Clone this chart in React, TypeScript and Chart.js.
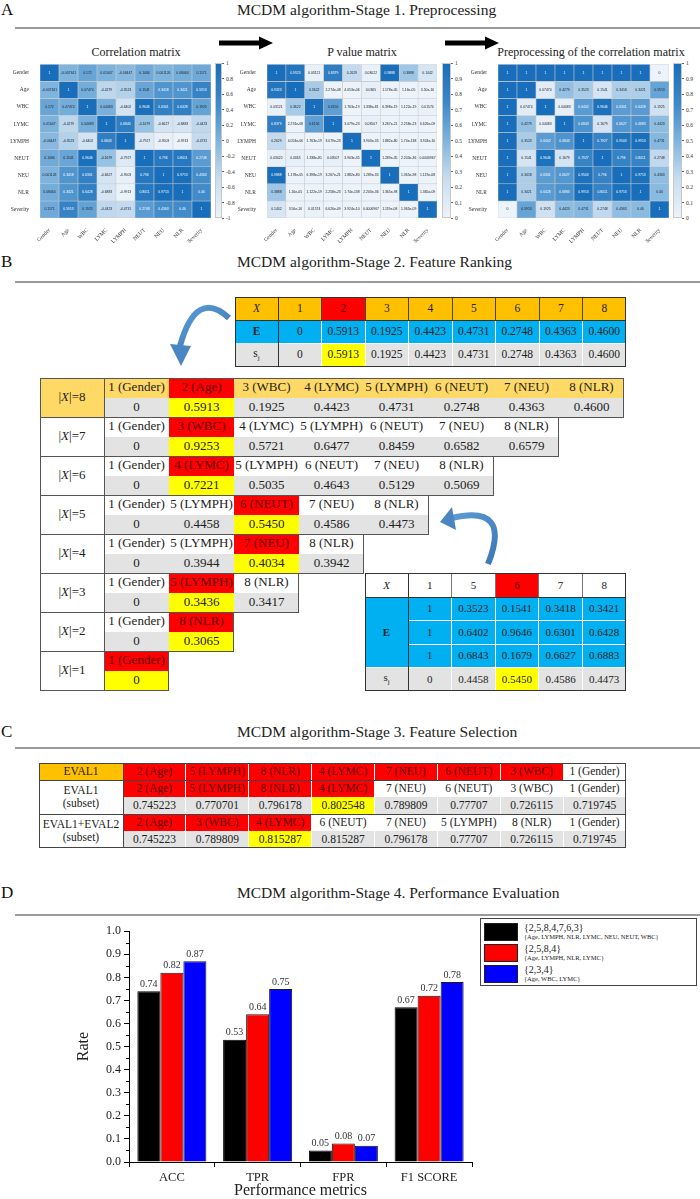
import React, { useEffect, useRef } from "react";
import { Chart, registerables } from "chart.js";

Chart.register(...registerables);

const SERIF = "'Liberation Serif', 'Times New Roman', Times, serif";
const SANS = "'Liberation Sans', Arial, sans-serif";

const ORANGE = "#FFC000";
const LIGHT_ORANGE = "#FFD966";
const RED = "#FF0000";
const DARK_RED = "#5a0000";
const YELLOW = "#FFFF00";
const CYAN = "#00B0F0";
const GRAY = "#E3E3E3";

// ---------- Stage 1 data ----------
const VARS = ["Gender", "Age", "WBC", "LYMC", "LYMPH", "NEUT", "NEU", "NLR", "Severity"];

const CORR: number[][] = [
  [1, -0.007341, 0.172, 0.01647, -0.06447, 0.1066, 0.001126, 0.08064, 0.1171],
  [-0.007341, 1, 0.07474, -0.4279, -0.3523, 0.1541, 0.3418, 0.3421, 0.5913],
  [0.172, 0.07474, 1, 0.04083, -0.6402, 0.9646, 0.6301, 0.6428, 0.1925],
  [0.01647, -0.4279, 0.04083, 1, 0.6843, -0.1679, -0.6627, -0.6883, -0.4423],
  [-0.06447, -0.3523, -0.6402, 0.6843, 1, -0.7927, -0.9503, -0.9913, -0.4731],
  [0.1066, 0.1541, 0.9646, -0.1679, -0.7927, 1, 0.796, 0.8011, 0.2748],
  [0.001126, 0.3418, 0.6301, -0.6627, -0.9503, 0.796, 1, 0.9713, 0.4363],
  [0.08064, 0.3421, 0.6428, -0.6883, -0.9913, 0.8011, 0.9713, 1, 0.46],
  [0.1171, 0.5913, 0.1925, -0.4423, -0.4731, 0.2748, 0.4363, 0.46, 1],
];

const PVAL: string[][] = [
  ["1", "0.9323", "0.03121", "0.8379", "0.2629", "0.03022", "0.9888", "0.3888", "0.1442"],
  ["0.9323", "1", "0.3622", "2.274e-08", "4.053e-06", "0.0365", "1.178e-05", "1.16e-05", "3.50e-16"],
  ["0.03121", "0.3622", "1", "0.6156", "1.763e-19", "1.338e-81", "6.398e-19", "1.122e-19", "0.01574"],
  ["0.8379", "2.274e-08", "0.6156", "1", "3.079e-23", "0.03507", "3.267e-21", "2.258e-23", "6.626e-09"],
  ["0.2629", "4.053e-06", "1.763e-19", "3.079e-23", "1", "3.903e-35", "1.882e-80", "1.74e-138", "3.924e-10"],
  ["0.03022", "0.0365", "1.338e-81", "0.03507", "3.903e-35", "1", "1.289e-35", "2.203e-36", "0.0006967"],
  ["0.9888", "1.178e-05", "6.398e-19", "3.267e-21", "1.882e-80", "1.289e-35", "1", "1.365e-98", "1.119e-08"],
  ["0.3888", "1.16e-05", "1.122e-19", "2.258e-23", "1.74e-138", "2.203e-36", "1.365e-98", "1", "1.365e-09"],
  ["0.1442", "3.50e-16", "0.01574", "6.626e-09", "3.924e-10", "0.0006967", "1.119e-08", "1.365e-09", "1"],
];

const PREP: number[][] = [
  [1, 1, 1, 1, 1, 1, 1, 1, 0],
  [1, 1, 0.07474, 0.4279, 0.3523, 0.1541, 0.3418, 0.3421, 0.5913],
  [1, 0.07474, 1, 0.04083, 0.6402, 0.9646, 0.6301, 0.6428, 0.1925],
  [1, 0.4279, 0.04083, 1, 0.6843, 0.1679, 0.6627, 0.6883, 0.4423],
  [1, 0.3523, 0.6402, 0.6843, 1, 0.7927, 0.9503, 0.9913, 0.4731],
  [1, 0.1541, 0.9646, 0.1679, 0.7927, 1, 0.796, 0.8011, 0.2748],
  [1, 0.3418, 0.6301, 0.6627, 0.9503, 0.796, 1, 0.9713, 0.4363],
  [1, 0.3421, 0.6428, 0.6883, 0.9913, 0.8011, 0.9713, 1, 0.46],
  [0, 0.5913, 0.1925, 0.4423, 0.4731, 0.2748, 0.4363, 0.46, 1],
];

const CORR_TICKS = ["1", "0.8", "0.6", "0.4", "0.2", "0", "-0.2", "-0.4", "-0.6", "-0.8", "-1"];
const UNIT_TICKS = ["1", "0.9", "0.8", "0.7", "0.6", "0.5", "0.4", "0.3", "0.2", "0.1", "0"];

// ---------- Stage 2 data ----------
const TOP_IDX = ["1", "2", "3", "4", "5", "6", "7", "8"];
const TOP_E = ["0", "0.5913", "0.1925", "0.4423", "0.4731", "0.2748", "0.4363", "0.4600"];
const TOP_S = ["0", "0.5913", "0.1925", "0.4423", "0.4731", "0.2748", "0.4363", "0.4600"];
const TOP_PICK = 1;

const RANK_NAMES: string[][] = [
  ["1 (Gender)", "2 (Age)", "3 (WBC)", "4 (LYMC)", "5 (LYMPH)", "6 (NEUT)", "7 (NEU)", "8 (NLR)"],
  ["1 (Gender)", "3 (WBC)", "4 (LYMC)", "5 (LYMPH)", "6 (NEUT)", "7 (NEU)", "8 (NLR)"],
  ["1 (Gender)", "4 (LYMC)", "5 (LYMPH)", "6 (NEUT)", "7 (NEU)", "8 (NLR)"],
  ["1 (Gender)", "5 (LYMPH)", "6 (NEUT)", "7 (NEU)", "8 (NLR)"],
  ["1 (Gender)", "5 (LYMPH)", "7 (NEU)", "8 (NLR)"],
  ["1 (Gender)", "5 (LYMPH)", "8 (NLR)"],
  ["1 (Gender)", "8 (NLR)"],
  ["1 (Gender)"],
];
const RANK_VALUES: string[][] = [
  ["0", "0.5913", "0.1925", "0.4423", "0.4731", "0.2748", "0.4363", "0.4600"],
  ["0", "0.9253", "0.5721", "0.6477", "0.8459", "0.6582", "0.6579"],
  ["0", "0.7221", "0.5035", "0.4643", "0.5129", "0.5069"],
  ["0", "0.4458", "0.5450", "0.4586", "0.4473"],
  ["0", "0.3944", "0.4034", "0.3942"],
  ["0", "0.3436", "0.3417"],
  ["0", "0.3065"],
  ["0"],
];
const RANK_PICK = [1, 1, 1, 2, 2, 1, 1, 0];

const SUB_IDX = ["1", "5", "6", "7", "8"];
const SUB_E: string[][] = [
  ["1", "0.3523", "0.1541", "0.3418", "0.3421"],
  ["1", "0.6402", "0.9646", "0.6301", "0.6428"],
  ["1", "0.6843", "0.1679", "0.6627", "0.6883"],
];
const SUB_S = ["0", "0.4458", "0.5450", "0.4586", "0.4473"];
const SUB_PICK = 2;

// ---------- Stage 3 data ----------
const SEL_ORDER = ["2 (Age)", "5 (LYMPH)", "8 (NLR)", "4 (LYMC)", "7 (NEU)", "6 (NEUT)", "3 (WBC)", "1 (Gender)"];
const SEL_RANK_RED = 7;
const SEL_E1_VALUES = ["0.745223", "0.770701", "0.796178", "0.802548", "0.789809", "0.77707", "0.726115", "0.719745"];
const SEL_E1_PICK = 3;
const SEL_E12_NAMES = ["2 (Age)", "3 (WBC)", "4 (LYMC)", "6 (NEUT)", "7 (NEU)", "5 (LYMPH)", "8 (NLR)", "1 (Gender)"];
const SEL_E12_VALUES = ["0.745223", "0.789809", "0.815287", "0.815287", "0.796178", "0.77707", "0.726115", "0.719745"];
const SEL_E12_PICK = 2;

// ---------- Stage 4 data ----------
const METRICS = ["ACC", "TPR", "FPR", "F1 SCORE"];
const SUBSET_7 = [0.74, 0.53, 0.05, 0.67];
const SUBSET_4 = [0.82, 0.64, 0.08, 0.72];
const SUBSET_3 = [0.87, 0.75, 0.07, 0.78];
const SERIES_KEYS = ["{2,5,8,4,7,6,3}", "{2,5,8,4}", "{2,3,4}"];
const SERIES_NAMES = ["{Age, LYMPH, NLR, LYMC, NEU, NEUT, WBC}", "{Age, LYMPH, NLR, LYMC}", "{Age, WBC, LYMC}"];
const SERIES_COLORS = ["#000000", "#FF0000", "#0000FF"];

// ---------- colour map ----------
const STOPS: [number, number[]][] = [
  [0, [236, 243, 250]],
  [0.25, [200, 221, 240]],
  [0.5, [125, 180, 222]],
  [0.75, [60, 135, 200]],
  [1, [24, 110, 186]],
];
function blue(t: number) {
  const u = Math.max(0, Math.min(1, t));
  for (let k = 1; k < STOPS.length; k++) {
    const [t0, c0] = STOPS[k - 1];
    const [t1, c1] = STOPS[k];
    if (u <= t1) {
      const f = (u - t0) / (t1 - t0);
      return `rgb(${c0.map((c, i) => Math.round(c + (c1[i] - c) * f)).join(",")})`;
    }
  }
  return `rgb(${STOPS[STOPS.length - 1][1].join(",")})`;
}

// ---------- helpers ----------
const Cell = (p: any) => (
  <div
    style={{
      position: "absolute",
      left: p.x,
      top: p.y,
      width: p.w,
      height: p.h,
      background: p.bg,
      color: p.color || "#222",
      fontSize: p.size || 12,
      fontFamily: SERIF,
      display: "flex",
      alignItems: "center",
      justifyContent: "center",
      textAlign: "center",
      lineHeight: 1.15,
      whiteSpace: "nowrap",
      overflow: "visible",
    }}
  >
    {p.children}
  </div>
);
const HLine = ({ x, y, w, c = "#333", t = 1 }: any) => (
  <div style={{ position: "absolute", left: x, top: y - t / 2, width: w, height: t, background: c }} />
);
const VLine = ({ x, y, h, c = "#333", t = 1 }: any) => (
  <div style={{ position: "absolute", left: x - t / 2, top: y, width: t, height: h, background: c }} />
);
const Rect = ({ x, y, w, h, c = "#333", t = 1 }: any) => (
  <div
    style={{
      position: "absolute",
      left: x,
      top: y,
      width: w,
      height: h,
      border: `${t}px solid ${c}`,
      boxSizing: "border-box",
    }}
  />
);

function SectionHeader({ letter, title, y, lineY }: any) {
  return (
    <>
      <div style={{ position: "absolute", left: 1, top: y - 10, fontSize: 17, lineHeight: "20px", fontFamily: SERIF, color: "#111" }}>
        {letter}
      </div>
      <div style={{ position: "absolute", left: 237, top: y - 9, fontSize: 15.5, lineHeight: "18px", fontFamily: SERIF, color: "#222", whiteSpace: "nowrap" }}>
        {title}
      </div>
      <HLine x={15} y={lineY} w={685} c="#9a9a9a" t={1.5} />
    </>
  );
}

// ---------- heatmap ----------
function Heatmap(props: any) {
  const ref = useRef<HTMLCanvasElement>(null);
  useEffect(() => {
    const { values, texts, vmin, vmax, height, axisW } = props;
    const padTop = 5;
    const gridH = 155;
    const norm = (v: number) => (v - vmin) / (vmax - vmin);
    const datasets = VARS.map((_, i) => ({
      data: VARS.map(() => [i, i + 1]),
      backgroundColor: values[i].map((v: number) => blue(norm(v))),
      borderColor: "rgba(200,200,200,0.9)",
      borderWidth: 0.6,
      borderSkipped: false,
      grouped: false,
      barPercentage: 1,
      categoryPercentage: 1,
    }));
    const textPlugin = {
      id: "cellText",
      afterDatasetsDraw(chart: any) {
        const ctx = chart.ctx;
        ctx.save();
        ctx.font = `3.4px ${SANS}`;
        ctx.textAlign = "center";
        ctx.textBaseline = "middle";
        chart.data.datasets.forEach((_: any, i: number) => {
          chart.getDatasetMeta(i).data.forEach((el: any, j: number) => {
            const p = el.getProps(["x", "y", "base"], true);
            ctx.fillStyle = norm(values[i][j]) > 0.62 ? "#ffffff" : "#222222";
            ctx.fillText(texts[i][j], p.x, (p.y + p.base) / 2);
          });
        });
        ctx.restore();
      },
    };
    const chart = new Chart(ref.current as HTMLCanvasElement, {
      type: "bar",
      data: { labels: VARS, datasets: datasets as any },
      options: {
        animation: false,
        responsive: false,
        maintainAspectRatio: false,
        layout: { padding: { top: padTop, right: 2, left: 0, bottom: 0 } },
        plugins: { legend: { display: false }, tooltip: { enabled: false } },
        scales: {
          x: {
            type: "category",
            grid: { display: false },
            border: { display: false },
            ticks: {
              font: { family: SERIF, size: 5.5 },
              color: "#333",
              maxRotation: 45,
              minRotation: 45,
              autoSkip: false,
              padding: 1,
            },
            afterFit: (s: any) => {
              s.height = height - padTop - gridH;
            },
          },
          y: {
            type: "linear",
            min: 0,
            max: 9,
            reverse: true,
            grid: { display: false },
            border: { display: false },
            afterBuildTicks: (s: any) => {
              s.ticks = VARS.map((_, i) => ({ value: i + 0.5 }));
            },
            ticks: {
              font: { family: SERIF, size: 5.5 },
              color: "#333",
              autoSkip: false,
              padding: 3,
              callback: (v: any) => VARS[Math.floor(Number(v))],
            },
            afterFit: (s: any) => {
              s.width = axisW;
            },
          },
        },
      } as any,
      plugins: [textPlugin],
    });
    return () => chart.destroy();
  }, []);
  return (
    <canvas
      ref={ref}
      width={props.width}
      height={props.height}
      style={{ position: "absolute", left: props.left, top: props.top, width: props.width, height: props.height }}
    />
  );
}

function ColorBar({ left, top, width, height, labels }: any) {
  const grad = `linear-gradient(to top, ${STOPS.map(([t, c]) => `rgb(${c.join(",")}) ${t * 100}%`).join(", ")})`;
  return (
    <>
      <div style={{ position: "absolute", left, top, width, height, background: grad, border: "0.5px solid #c8c8c8", boxSizing: "border-box" }} />
      {labels.map((l: string, k: number) => {
        const y = top + (height * k) / (labels.length - 1);
        return (
          <React.Fragment key={k}>
            <div style={{ position: "absolute", left: left + width, top: y - 0.3, width: 2, height: 0.6, background: "#666" }} />
            <div style={{ position: "absolute", left: left + width + 4, top: y - 4, fontSize: 5.5, lineHeight: "8px", fontFamily: SERIF, color: "#333" }}>
              {l}
            </div>
          </React.Fragment>
        );
      })}
    </>
  );
}

const HeatTitle = ({ cx, text }: any) => (
  <div style={{ position: "absolute", left: cx - 120, width: 240, top: 45, textAlign: "center", fontSize: 12, lineHeight: "15px", fontFamily: SERIF, color: "#222", whiteSpace: "nowrap" }}>
    {text}
  </div>
);

// ---------- Stage 2 tables ----------
function TopTable() {
  const x0 = 235, c0 = 43, cw = 43.5;
  const ys = [297, 320, 343, 367];
  const cx = (j: number) => x0 + c0 + cw * j;
  const W = c0 + cw * TOP_IDX.length;
  const fs = 11.5;
  return (
    <>
      <Cell x={x0} y={ys[0]} w={c0} h={ys[1] - ys[0]} bg={ORANGE} size={fs}><i>X</i></Cell>
      {TOP_IDX.map((t, j) => (
        <Cell key={"h" + j} x={cx(j)} y={ys[0]} w={cw} h={ys[1] - ys[0]} bg={j === TOP_PICK ? RED : ORANGE} color={j === TOP_PICK ? DARK_RED : "#222"} size={fs}>{t}</Cell>
      ))}
      <Cell x={x0} y={ys[1]} w={c0} h={ys[2] - ys[1]} bg={CYAN} size={fs}><b>E</b></Cell>
      {TOP_E.map((t, j) => (
        <Cell key={"e" + j} x={cx(j)} y={ys[1]} w={cw} h={ys[2] - ys[1]} bg={CYAN} size={fs}>{t}</Cell>
      ))}
      <Cell x={x0} y={ys[2]} w={c0} h={ys[3] - ys[2]} bg={GRAY} size={fs}><span>s<sub style={{ fontSize: 7 }}>j</sub></span></Cell>
      {TOP_S.map((t, j) => (
        <Cell key={"s" + j} x={cx(j)} y={ys[2]} w={cw} h={ys[3] - ys[2]} bg={j === TOP_PICK ? YELLOW : GRAY} size={fs}>{t}</Cell>
      ))}
      {TOP_IDX.slice(1).map((_, k) => (
        <React.Fragment key={"v" + k}>
          <VLine x={cx(k + 1)} y={ys[0]} h={ys[1] - ys[0]} c="#444" />
          <VLine x={cx(k + 1)} y={ys[1]} h={ys[3] - ys[1]} c="#ffffff" />
        </React.Fragment>
      ))}
      <HLine x={x0 + c0} y={ys[2]} w={W - c0} c="#ffffff" />
      <HLine x={x0} y={ys[1]} w={W} c="#333" />
      <VLine x={cx(0)} y={ys[0]} h={ys[3] - ys[0]} c="#333" />
      <Rect x={x0} y={ys[0]} w={W} h={ys[3] - ys[0]} c="#333" t={1.2} />
    </>
  );
}

function RankTable() {
  const x0 = 40, c0 = 64, cw = 65, y0 = 378, bh = 39;
  const fs = 13;
  return (
    <>
      {RANK_NAMES.map((names, b) => {
        const y = y0 + bh * b;
        const first = b === 0;
        const n = names.length;
        const pick = RANK_PICK[b];
        return (
          <React.Fragment key={b}>
            <Cell x={x0} y={y} w={c0} h={bh} bg={first ? LIGHT_ORANGE : "#fff"} size={fs}>
              <span>|<i>X</i>|={n}</span>
            </Cell>
            {names.map((nm, j) => (
              <Cell key={"n" + j} x={x0 + c0 + cw * j} y={y} w={cw} h={bh / 2} bg={j === pick ? RED : first ? LIGHT_ORANGE : "#fff"} color={j === pick ? DARK_RED : "#222"} size={fs}>
                {nm}
              </Cell>
            ))}
            {RANK_VALUES[b].map((v, j) => (
              <Cell key={"v" + j} x={x0 + c0 + cw * j} y={y + bh / 2} w={cw} h={bh / 2} bg={j === pick ? YELLOW : GRAY} size={fs}>
                {v}
              </Cell>
            ))}
            <Rect x={x0} y={y} w={c0 + cw * n} h={bh + 1} c="#555" t={1} />
            <VLine x={x0 + c0} y={y} h={bh} c="#555" />
          </React.Fragment>
        );
      })}
    </>
  );
}

function SubTable() {
  const x0 = 365, c0 = 43, cw = 43.6;
  const ys = [573, 597, 620, 644, 667, 691];
  const cx = (j: number) => x0 + c0 + cw * j;
  const W = c0 + cw * SUB_IDX.length;
  const fs = 11;
  return (
    <>
      <Cell x={x0} y={ys[0]} w={c0} h={ys[1] - ys[0]} bg="#fff" size={fs}><i>X</i></Cell>
      {SUB_IDX.map((t, j) => (
        <Cell key={"h" + j} x={cx(j)} y={ys[0]} w={cw} h={ys[1] - ys[0]} bg={j === SUB_PICK ? RED : "#fff"} color={j === SUB_PICK ? DARK_RED : "#222"} size={fs}>{t}</Cell>
      ))}
      <Cell x={x0} y={ys[1]} w={c0} h={ys[4] - ys[1]} bg={CYAN} size={fs}><b>E</b></Cell>
      {SUB_E.map((row, r) =>
        row.map((t, j) => (
          <Cell key={"e" + r + "-" + j} x={cx(j)} y={ys[1 + r]} w={cw} h={ys[2 + r] - ys[1 + r]} bg={CYAN} size={fs}>{t}</Cell>
        ))
      )}
      <Cell x={x0} y={ys[4]} w={c0} h={ys[5] - ys[4]} bg={GRAY} size={fs}><span>s<sub style={{ fontSize: 7 }}>j</sub></span></Cell>
      {SUB_S.map((t, j) => (
        <Cell key={"s" + j} x={cx(j)} y={ys[4]} w={cw} h={ys[5] - ys[4]} bg={j === SUB_PICK ? YELLOW : GRAY} size={fs}>{t}</Cell>
      ))}
      {SUB_IDX.slice(1).map((_, k) => (
        <React.Fragment key={"v" + k}>
          <VLine x={cx(k + 1)} y={ys[0]} h={ys[1] - ys[0]} c="#777" />
          <VLine x={cx(k + 1)} y={ys[1]} h={ys[5] - ys[1]} c="#ffffff" />
        </React.Fragment>
      ))}
      <HLine x={x0 + c0} y={ys[2]} w={W - c0} c="#ffffff" />
      <HLine x={x0 + c0} y={ys[3]} w={W - c0} c="#ffffff" />
      <HLine x={x0} y={ys[4]} w={W} c="#ffffff" />
      <HLine x={x0} y={ys[1]} w={W} c="#333" />
      <VLine x={cx(0)} y={ys[0]} h={ys[5] - ys[0]} c="#333" />
      <Rect x={x0} y={ys[0]} w={W} h={ys[5] - ys[0]} c="#333" t={1.2} />
    </>
  );
}

// ---------- Stage 3 table ----------
function SelTable() {
  const x0 = 39, c0 = 84, cw = 62.875;
  const ys = [763, 780, 797, 814, 831, 848];
  const cx = (j: number) => x0 + c0 + cw * j;
  const W = c0 + cw * SEL_ORDER.length;
  const fs = 11.5;
  const h = (r: number) => ys[r + 1] - ys[r];
  return (
    <>
      <Cell x={x0} y={ys[0]} w={c0} h={h(0)} bg={ORANGE} size={fs}>EVAL1</Cell>
      {SEL_ORDER.map((t, j) => (
        <Cell key={"a" + j} x={cx(j)} y={ys[0]} w={cw} h={h(0)} bg={j < SEL_RANK_RED ? RED : "#fff"} color={j < SEL_RANK_RED ? DARK_RED : "#222"} size={fs}>{t}</Cell>
      ))}
      <Cell x={x0} y={ys[1]} w={c0} h={ys[3] - ys[1]} bg="#fff" size={fs}>
        <span>EVAL1<br />(subset)</span>
      </Cell>
      {SEL_ORDER.map((t, j) => (
        <Cell key={"b" + j} x={cx(j)} y={ys[1]} w={cw} h={h(1)} bg={j <= SEL_E1_PICK ? RED : "#fff"} color={j <= SEL_E1_PICK ? DARK_RED : "#222"} size={fs}>{t}</Cell>
      ))}
      {SEL_E1_VALUES.map((t, j) => (
        <Cell key={"c" + j} x={cx(j)} y={ys[2]} w={cw} h={h(2)} bg={j === SEL_E1_PICK ? YELLOW : GRAY} size={fs}>{t}</Cell>
      ))}
      <Cell x={x0} y={ys[3]} w={c0} h={ys[5] - ys[3]} bg="#fff" size={fs}>
        <span>EVAL1+EVAL2<br />(subset)</span>
      </Cell>
      {SEL_E12_NAMES.map((t, j) => (
        <Cell key={"d" + j} x={cx(j)} y={ys[3]} w={cw} h={h(3)} bg={j <= SEL_E12_PICK ? RED : "#fff"} color={j <= SEL_E12_PICK ? DARK_RED : "#222"} size={fs}>{t}</Cell>
      ))}
      {SEL_E12_VALUES.map((t, j) => (
        <Cell key={"e" + j} x={cx(j)} y={ys[4]} w={cw} h={h(4)} bg={j === SEL_E12_PICK ? YELLOW : GRAY} size={fs}>{t}</Cell>
      ))}
      {SEL_ORDER.slice(1).map((_, k) => (
        <VLine key={"s" + k} x={cx(k + 1)} y={ys[0]} h={ys[5] - ys[0]} c="#ffffff" />
      ))}
      <HLine x={x0} y={ys[1]} w={W} c="#444" />
      <HLine x={x0} y={ys[3]} w={W} c="#444" />
      <VLine x={cx(0)} y={ys[0]} h={ys[5] - ys[0]} c="#444" />
      <Rect x={x0} y={ys[0]} w={W} h={ys[5] - ys[0]} c="#444" t={1.2} />
    </>
  );
}

// ---------- Stage 4 chart ----------
function BarChart() {
  const ref = useRef<HTMLCanvasElement>(null);
  useEffect(() => {
    const labelPlugin = {
      id: "barLabels",
      afterDatasetsDraw(chart: any) {
        const ctx = chart.ctx;
        ctx.save();
        ctx.font = `10px ${SERIF}`;
        ctx.fillStyle = "#333";
        ctx.textAlign = "center";
        ctx.textBaseline = "bottom";
        chart.data.datasets.forEach((ds: any, i: number) => {
          chart.getDatasetMeta(i).data.forEach((el: any, j: number) => {
            const p = el.getProps(["x", "y"], true);
            ctx.fillText(Number(ds.data[j]).toFixed(2), p.x, p.y - 2);
          });
        });
        ctx.restore();
      },
    };
    const minorPlugin = {
      id: "minorTicks",
      afterDraw(chart: any) {
        const ys = chart.scales.y;
        const left = chart.chartArea.left;
        const ctx = chart.ctx;
        ctx.save();
        ctx.strokeStyle = "#000";
        ctx.lineWidth = 1;
        ctx.beginPath();
        const ticks = ys.ticks.map((t: any) => t.value);
        for (let k = 0; k < ticks.length - 1; k++) {
          const py = Math.round(ys.getPixelForValue((ticks[k] + ticks[k + 1]) / 2)) + 0.5;
          ctx.moveTo(left - 3, py);
          ctx.lineTo(left, py);
        }
        ctx.stroke();
        ctx.restore();
      },
    };
    const chart = new Chart(ref.current as HTMLCanvasElement, {
      type: "bar",
      data: {
        labels: METRICS,
        datasets: [
          { label: SERIES_KEYS[0], data: SUBSET_7, backgroundColor: SERIES_COLORS[0], borderColor: "#000", borderWidth: 1 },
          { label: SERIES_KEYS[1], data: SUBSET_4, backgroundColor: SERIES_COLORS[1], borderColor: "#1a1a1a", borderWidth: 1 },
          { label: SERIES_KEYS[2], data: SUBSET_3, backgroundColor: SERIES_COLORS[2], borderColor: "#1a1a1a", borderWidth: 1 },
        ],
      },
      options: {
        animation: false,
        responsive: false,
        maintainAspectRatio: false,
        layout: { padding: { top: 10, right: 2, left: 0, bottom: 0 } },
        plugins: { legend: { display: false }, tooltip: { enabled: false } },
        datasets: { bar: { categoryPercentage: 0.805, barPercentage: 1 } },
        scales: {
          x: {
            grid: { display: true, drawOnChartArea: false, drawTicks: true, tickLength: 5, color: "#000", offset: true },
            border: { display: true, color: "#000", width: 1 },
            ticks: { font: { family: SERIF, size: 12.5 }, color: "#222", padding: 3 },
            title: { display: true, text: "Performance metrics", font: { family: SERIF, size: 16, lineHeight: 1 }, color: "#222", padding: 0 },
            afterFit: (s: any) => {
              s.height = 37;
            },
          },
          y: {
            min: 0,
            max: 1,
            grid: { display: true, drawOnChartArea: false, drawTicks: true, tickLength: 5, color: "#000" },
            border: { display: true, color: "#000", width: 1 },
            ticks: { stepSize: 0.1, callback: (v: any) => Number(v).toFixed(1), font: { family: SERIF, size: 12 }, color: "#222", padding: 3 },
            title: { display: true, text: "Rate", font: { family: SERIF, size: 16 }, color: "#222", padding: { top: 4, bottom: 0 } },
            afterFit: (s: any) => {
              s.width = 59;
            },
          },
        },
      } as any,
      plugins: [labelPlugin, minorPlugin],
    });
    return () => chart.destroy();
  }, []);
  return <canvas ref={ref} width={404} height={278} style={{ position: "absolute", left: 70, top: 921, width: 404, height: 278 }} />;
}

function Legend() {
  return (
    <div style={{ position: "absolute", left: 480, top: 918, width: 217, height: 68, border: "1px solid #444", boxSizing: "border-box", fontFamily: SERIF, color: "#222" }}>
      {SERIES_KEYS.map((k, i) => (
        <div key={i} style={{ position: "absolute", left: 3, top: 3 + i * 21, width: 210, height: 20 }}>
          <div style={{ position: "absolute", left: 0, top: 1, width: 34, height: 18, background: SERIES_COLORS[i], border: "1px solid #222", boxSizing: "border-box" }} />
          <div style={{ position: "absolute", left: 40, top: 0, fontSize: 10, lineHeight: "11px", whiteSpace: "nowrap" }}>{k}</div>
          <div style={{ position: "absolute", left: 40, top: 11, fontSize: 6.5, lineHeight: "8px", whiteSpace: "nowrap" }}>{SERIES_NAMES[i]}</div>
        </div>
      ))}
    </div>
  );
}

function Arrows() {
  return (
    <svg width={700} height={1199} style={{ position: "absolute", left: 0, top: 0, pointerEvents: "none" }}>
      <defs>
        <linearGradient id="blueArrow" x1="0" y1="0" x2="1" y2="1">
          <stop offset="0" stopColor="#5b9bd5" />
          <stop offset="1" stopColor="#3e78b3" />
        </linearGradient>
      </defs>
      <line x1={219} y1={43} x2={261} y2={43} stroke="#000" strokeWidth={5} />
      <polygon points="259,36.5 273,43 259,49.5" fill="#000" />
      <line x1={445} y1={43} x2={487} y2={43} stroke="#000" strokeWidth={5} />
      <polygon points="485,36.5 499,43 485,49.5" fill="#000" />
      <path d="M 229 318 Q 196 288 180 346" stroke="url(#blueArrow)" strokeWidth={6} fill="none" />
      <polygon points="170,344 191,346 181,366" fill="#4a86c2" />
      <path d="M 488 564 Q 512 504 452 518" stroke="url(#blueArrow)" strokeWidth={6} fill="none" />
      <polygon points="452,507 456,530 440,522" fill="#4a86c2" />
    </svg>
  );
}

export default function App() {
  const corrTexts = CORR.map((r) => r.map((v) => String(v)));
  const pNums = PVAL.map((r) => r.map((v) => Number(v)));
  const prepTexts = PREP.map((r) => r.map((v) => String(v)));
  return (
    <div style={{ position: "absolute", left: 0, top: 0, width: 700, height: 1199, background: "#fff", overflow: "hidden", fontFamily: SERIF, color: "#222" }}>
      <SectionHeader letter="A" title="MCDM algorithm-Stage 1. Preprocessing" y={10} lineY={28} />
      <HeatTitle cx={136} text="Correlation matrix" />
      <HeatTitle cx={362} text="P value matrix" />
      <HeatTitle cx={591} text="Preprocessing of the correlation matrix" />
      <Heatmap left={0} top={58} width={213} height={185} axisW={40} values={CORR} texts={corrTexts} vmin={-1} vmax={1} />
      <ColorBar left={215} top={63} width={7} height={155} labels={CORR_TICKS} />
      <Heatmap left={235} top={58} width={204} height={185} axisW={32} values={pNums} texts={PVAL} vmin={0} vmax={1} />
      <ColorBar left={442} top={63} width={9} height={155} labels={UNIT_TICKS} />
      <Heatmap left={465} top={58} width={206} height={185} axisW={33} values={PREP} texts={prepTexts} vmin={0} vmax={1} />
      <ColorBar left={673} top={63} width={9} height={155} labels={UNIT_TICKS} />

      <SectionHeader letter="B" title="MCDM algorithm-Stage 2. Feature Ranking" y={262} lineY={282} />
      <TopTable />
      <RankTable />
      <SubTable />

      <SectionHeader letter="C" title="MCDM algorithm-Stage 3. Feature Selection" y={732} lineY={748} />
      <SelTable />

      <SectionHeader letter="D" title="MCDM algorithm-Stage 4. Performance Evaluation" y={893} lineY={915} />
      <BarChart />
      <Legend />
      <Arrows />
    </div>
  );
}
